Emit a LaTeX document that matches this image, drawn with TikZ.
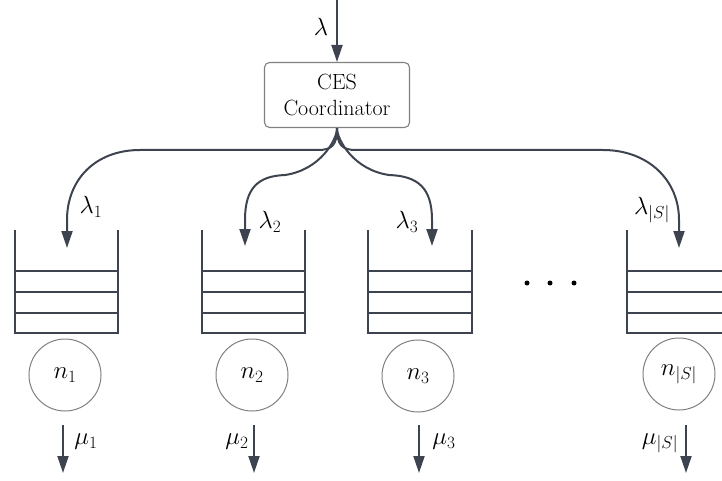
\documentclass[tikz,border=0pt]{standalone}
\usepackage{fontspec}
\usetikzlibrary{arrows.meta}
\definecolor{lc}{RGB}{61,68,79}
\definecolor{bc}{RGB}{128,128,128}
\begin{document}
\begin{tikzpicture}[x=1pt,y=-1pt,
  arr/.style={draw=lc,line width=2pt,-{Triangle[length=17pt,width=11pt]}},
  qline/.style={draw=lc,line width=2pt},
  coordbox/.style={draw=bc,line width=1.1pt,rounded corners=5pt,minimum width=145pt,minimum height=65pt,align=center,font=\fontsize{22}{26}\selectfont,inner sep=0pt},
  server/.style={circle,draw=bc,line width=1pt,minimum size=72pt,inner sep=0pt,font=\fontsize{25}{30}\selectfont},
  lbl/.style={inner sep=0pt,font=\fontsize{25}{30}\selectfont},
  dotn/.style={circle,fill=black,minimum size=5pt,inner sep=0pt}]
\useasboundingbox (0,0) rectangle (722,481);

% coordinator
\node[coordbox] (coord) at (337,95) {CES\\Coordinator};
\coordinate (src) at (337,0);
\draw[arr] (src) -- (coord.north);
\node[lbl] (lam) at (321,27) {$\lambda$};

% queues
\foreach \x/\r [count=\i] in {15/118, 202/305, 368/472}{
  \draw[qline] (\x,230) -- (\x,333) -- (\r,333) -- (\r,230);
  \foreach \y in {271,292,313} \draw[qline] (\x,\y) -- (\r,\y);
}
\draw[qline] (627,230) -- (627,333) -- (722,333);
\foreach \y in {271,292,313} \draw[qline] (627,\y) -- (722,\y);

% queue inputs
\coordinate (q1) at (67,248);
\coordinate (q2) at (245,246);
\coordinate (q3) at (432,246);
\coordinate (q4) at (679,248);

\draw[arr] (coord.south) .. controls (337,145) and (332,150) .. (318,150) -- (140,150)
  .. controls (95,150) and (67,180) .. (67,220) -- (q1);
\draw[arr] (coord.south) .. controls (337,140) and (320,170) .. (285,175)
  .. controls (258,176) and (245,188) .. (245,220) -- (q2);
\draw[arr] (coord.south) .. controls (337,140) and (354,170) .. (389,175)
  .. controls (418,176) and (432,188) .. (432,220) -- (q3);
\draw[arr] (coord.south) .. controls (337,145) and (342,150) .. (356,150) -- (603,150)
  .. controls (648,150) and (679,180) .. (679,220) -- (q4);

\node[lbl] (l1) at (91,207) {$\lambda_1$};
\node[lbl] (l2) at (270,222) {$\lambda_2$};
\node[lbl] (l3) at (407,222) {$\lambda_3$};
\node[lbl] (l4) at (652,210) {$\lambda_{|S|}$};

% dots
\node[dotn] (d1) at (527,283) {};
\node[dotn] (d2) at (550,283) {};
\node[dotn] (d3) at (574,283) {};

% servers
\node[server] (s1) at (65,375) {$n_1$};
\node[server] (s2) at (252,375) {$n_2$};
\node[server] (s3) at (418,376) {$n_3$};
\node[server] (s4) at (679,374) {$n_{|S|}$};

% outputs
\coordinate (o1a) at (63,425);  \coordinate (o1b) at (63,473);
\coordinate (o2a) at (254,425); \coordinate (o2b) at (254,473);
\coordinate (o3a) at (419,425); \coordinate (o3b) at (419,473);
\coordinate (o4a) at (686,425); \coordinate (o4b) at (686,473);
\draw[arr] (o1a) -- (o1b);
\draw[arr] (o2a) -- (o2b);
\draw[arr] (o3a) -- (o3b);
\draw[arr] (o4a) -- (o4b);

\node[lbl] (m1) at (86,442) {$\mu_1$};
\node[lbl] (m2) at (237,442) {$\mu_2$};
\node[lbl] (m3) at (444,442) {$\mu_3$};
\node[lbl] (m4) at (660,443) {$\mu_{|S|}$};
\end{tikzpicture}
\end{document}
